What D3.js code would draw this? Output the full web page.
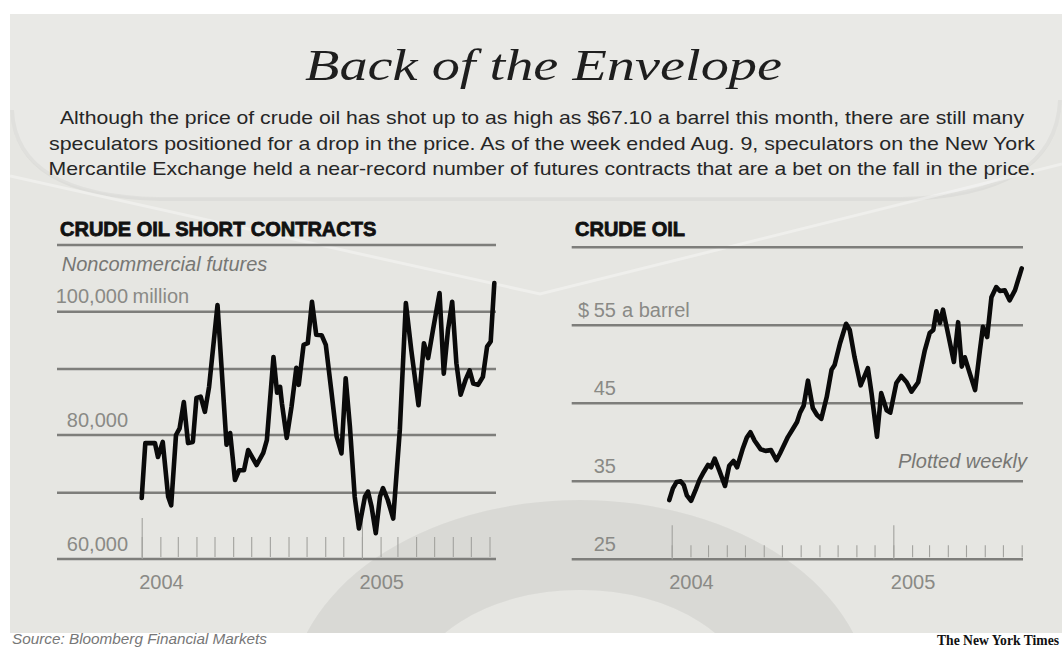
<!DOCTYPE html>
<html><head><meta charset="utf-8">
<script src="https://cdn.jsdelivr.net/npm/d3@7"></script>
<style>html,body{margin:0;padding:0;background:#fff}svg{display:block}</style>
</head><body>
<svg id="chart" width="1062" height="648"></svg>
<script>
// ---------- DATA ----------
const shortDates = ["2004-01-01","2004-01-07","2004-01-23","2004-01-28","2004-02-05","2004-02-14","2004-02-19","2004-02-27","2004-03-04","2004-03-11","2004-03-18","2004-03-26","2004-04-01","2004-04-08","2004-04-15","2004-04-22","2004-05-06","2004-05-21","2004-05-27","2004-06-04","2004-06-11","2004-06-19","2004-06-26","2004-07-10","2004-07-21","2004-07-27","2004-08-07","2004-08-13","2004-08-18","2004-08-21","2004-08-29","2004-09-06","2004-09-14","2004-09-18","2004-09-26","2004-10-03","2004-10-10","2004-10-17","2004-10-26","2004-11-02","2004-11-11","2004-11-20","2004-11-28","2004-12-05","2004-12-12","2004-12-20","2004-12-27","2005-01-06","2005-01-11","2005-01-17","2005-01-24","2005-01-31","2005-02-05","2005-02-13","2005-02-22","2005-03-05","2005-03-15","2005-03-24","2005-04-05","2005-04-14","2005-04-21","2005-04-29","2005-05-10","2005-05-17","2005-05-24","2005-05-31","2005-06-07","2005-06-14","2005-06-22","2005-06-29","2005-07-05","2005-07-13","2005-07-21","2005-07-28","2005-08-03","2005-08-09"];
const shortValues = [69200,78600,78600,76200,78800,69400,68100,80000,81000,85000,78600,78800,85600,85800,83500,87300,101000,78300,80300,72200,73900,73900,77400,74800,76900,79100,92100,86400,87300,84800,79500,84300,90200,87600,94200,94500,101500,96000,95900,94200,86800,79700,76800,88600,81300,69400,64600,69400,70200,67900,63900,69400,70800,68900,66100,80800,101300,93300,84500,94500,91900,96800,102800,89300,96800,101500,91000,86100,88300,89800,87800,87600,88800,93900,94800,104300];

const oilDates = ["2003-12-28","2004-01-03","2004-01-09","2004-01-16","2004-01-21","2004-01-26","2004-02-02","2004-02-10","2004-02-16","2004-02-23","2004-03-01","2004-03-06","2004-03-12","2004-03-20","2004-03-29","2004-04-05","2004-04-12","2004-04-18","2004-04-27","2004-05-04","2004-05-10","2004-05-17","2004-05-27","2004-06-04","2004-06-13","2004-06-22","2004-06-28","2004-07-11","2004-07-19","2004-07-26","2004-07-31","2004-08-06","2004-08-13","2004-08-21","2004-08-28","2004-09-04","2004-09-13","2004-09-21","2004-09-26","2004-10-05","2004-10-15","2004-10-21","2004-10-29","2004-11-08","2004-11-20","2004-11-26","2004-12-01","2004-12-05","2004-12-12","2004-12-21","2004-12-27","2005-01-06","2005-01-14","2005-01-23","2005-01-31","2005-02-11","2005-02-22","2005-03-02","2005-03-08","2005-03-13","2005-03-19","2005-03-24","2005-03-30","2005-04-07","2005-04-11","2005-04-18","2005-04-24","2005-04-29","2005-05-07","2005-05-16","2005-05-24","2005-05-29","2005-06-05","2005-06-12","2005-06-20","2005-06-26","2005-07-04","2005-07-12","2005-07-21","2005-08-01"];
const oilValues = [32.6,34.1,34.9,35.0,34.5,33.2,32.5,34.0,35.2,36.2,37.1,36.8,37.9,36.3,34.4,37.0,37.6,36.8,39.1,40.6,41.3,40.2,39.1,38.9,39.0,37.7,38.6,40.7,41.7,42.6,43.8,44.7,47.9,44.4,43.5,43.0,45.8,49.3,49.9,52.7,55.2,54.4,50.9,47.3,49.5,46.3,43.2,40.7,46.3,44.1,43.8,47.6,48.5,47.7,46.5,47.7,51.8,54.0,54.4,56.8,55.3,57.0,54.8,51.8,50.3,55.4,49.7,50.9,48.9,46.7,51.8,54.8,53.5,58.6,59.9,59.4,59.5,58.2,59.5,62.3];

const shortGridValues = [60000,70000,80000,90000,100000,110000];
const shortTickValues = [60000,80000,100000];
const shortTickLabels = ["60,000","80,000","100,000"];
const shortUnit = "million";

const oilGridValues = [25,35,45,55,65];
const oilTickValues = [25,35,45,55];
const oilTickLabels = ["25","35","45","55"];
const oilPrefix = "$";
const oilUnit = "a barrel";

const yearTicks = ["2004-01-01","2005-01-01"];
const yearLabels = ["2004","2005"];
const timeDomain = ["2004-01-01","2005-08-01"];

const paragraph = [
  "Although the price of crude oil has shot up to as high as $67.10 a barrel this month, there are still many",
  "speculators positioned for a drop in the price. As of the week ended Aug. 9, speculators on the New York",
  "Mercantile Exchange held a near-record number of futures contracts that are a bet on the fall in the price."
];

// ---------- DRAW ----------
const parse = d3.utcParse("%Y-%m-%d");
const svg = d3.select("#chart");
const SANS = "'Liberation Sans', Arial, Helvetica, sans-serif";
const GRAY = "#8a8a86";

// background envelope
svg.append("rect").attr("x",0).attr("y",0).attr("width",1062).attr("height",648).attr("fill","#fff");
const defs = svg.append("defs");
defs.append("clipPath").attr("id","env").append("rect").attr("x",10).attr("y",14).attr("width",1052).attr("height",619);
svg.append("rect").attr("x",10).attr("y",14).attr("width",1052).attr("height",619).attr("fill","#e6e6e2");
const bg = svg.append("g").attr("clip-path","url(#env)");
// top flap (slightly lighter)
bg.append("path")
  .attr("d","M10,14 L10,110 Q14,196 160,198 L900,198 Q1058,196 1062,100 L1062,14 Z")
  .attr("fill","#e9e9e6");
bg.append("path")
  .attr("d","M12,110 Q16,196 160,199 L900,199 Q1056,196 1060,100")
  .attr("fill","none").attr("stroke","rgba(0,0,0,0.035)").attr("stroke-width",4);
// V flap lines
bg.append("path").attr("d","M10,176 L540,294 L1062,164")
  .attr("fill","none").attr("stroke","rgba(255,255,255,0.35)").attr("stroke-width",3);
// darker swoosh ring
bg.append("path")
  .attr("d","M290,700 a290,200 0 1,1 580,0 a290,200 0 1,1 -580,0 Z M410,700 a170,110 0 1,0 340,0 a170,110 0 1,0 -340,0 Z")
  .attr("fill","rgba(0,0,0,0.055)").attr("fill-rule","evenodd");

// title
svg.append("text").attr("x",305).attr("y",80)
  .attr("font-family","'Liberation Serif','DejaVu Serif',serif").attr("font-style","italic")
  .attr("font-size",44).attr("fill","#1e1e1e")
  .attr("textLength",477).attr("lengthAdjust","spacingAndGlyphs")
  .text("Back of the Envelope");

// paragraph
const paraLens = [964, 986, 987];
const paraBase = [124, 149.5, 175];
svg.append("g").selectAll("text").data(paragraph).join("text")
  .attr("x",542).attr("y",(d,i)=>paraBase[i]).attr("text-anchor","middle")
  .attr("font-family",SANS).attr("font-size",19).attr("fill","#262626")
  .attr("textLength",(d,i)=>paraLens[i]).attr("lengthAdjust","spacingAndGlyphs")
  .text(d=>d);

function panel(cfg){
  const g = svg.append("g");
  const x = d3.scaleUtc().domain(timeDomain.map(parse)).range(cfg.xr);
  const y = d3.scaleLinear().domain(cfg.yDomain).range(cfg.yRange);
  const base = y(cfg.grid[0]);

  // title
  g.append("text").attr("x",cfg.titleX).attr("y",236)
    .attr("font-family",SANS).attr("font-weight","bold").attr("font-size",20)
    .attr("fill","#111").attr("stroke","#111").attr("stroke-width",0.8)
    .text(cfg.title);

  // gridlines
  g.append("g").selectAll("line").data(cfg.grid).join("line")
    .attr("x1",cfg.gx[0]).attr("x2",cfg.gx[1])
    .attr("y1",d=>y(d)).attr("y2",d=>y(d))
    .attr("stroke","#7e7e7b").attr("stroke-width",2.6);

  // month ticks
  const minor = g.append("g").attr("transform",`translate(0,${base})`)
    .call(d3.axisBottom(x).ticks(d3.utcMonth.every(1)).tickSize(-cfg.minor).tickFormat(""));
  minor.select(".domain").remove();
  minor.selectAll(".tick line").attr("stroke","#a2a29e").attr("stroke-width",1.1).attr("transform","translate(0,-2)");

  // year ticks + labels
  const major = g.append("g").attr("transform",`translate(0,${base})`)
    .call(d3.axisBottom(x).tickValues(yearTicks.map(parse)).tickSize(-cfg.major).tickPadding(16)
      .tickFormat((d,i)=>yearLabels[i]));
  major.select(".domain").remove();
  major.selectAll(".tick line").attr("stroke","#a2a29e").attr("stroke-width",1.1);
  major.selectAll(".tick text").attr("font-family",SANS).attr("font-size",20)
    .attr("fill",GRAY).attr("text-anchor","start").attr("dx",-3);

  // value labels
  const lab = g.append("g");
  cfg.ticks.forEach((v,i)=>{
    lab.append("text").attr("x",cfg.labelX).attr("y",y(v)-8.5)
      .attr("text-anchor","end").attr("font-family",SANS).attr("font-size",20).attr("fill",GRAY)
      .text(cfg.tickLabels[i]);
  });
  const topV = cfg.ticks[cfg.ticks.length-1];
  lab.append("text").attr("x",cfg.labelX+cfg.unitGap).attr("y",y(topV)-8.5)
    .attr("font-family",SANS).attr("font-size",20).attr("fill",GRAY).text(cfg.unit);
  if(cfg.prefix){
    lab.append("text").attr("x",cfg.labelX-27).attr("y",y(topV)-8.5).attr("text-anchor","end")
      .attr("font-family",SANS).attr("font-size",20).attr("fill",GRAY).text(cfg.prefix);
  }

  // line
  const pts = cfg.dates.map((d,i)=>({d:parse(d),v:cfg.values[i]}));
  g.append("path").datum(pts)
    .attr("d",d3.line().x(p=>x(p.d)).y(p=>y(p.v)))
    .attr("fill","none").attr("stroke","#0a0a0a").attr("stroke-width",4.6)
    .attr("stroke-linejoin","round").attr("stroke-linecap","round");
  return g;
}

panel({
  title:"CRUDE OIL SHORT CONTRACTS", titleX:60,
  xr:[141.7,489.5], gx:[57,496],
  yDomain:shortGridValues, yRange:[559,492.7,435,369,311.7,245],
  grid:shortGridValues, ticks:shortTickValues, tickLabels:shortTickLabels,
  unit:shortUnit, unitGap:4.5, labelX:128,
  minor:20, major:41,
  dates:shortDates, values:shortValues
});
panel({
  title:"CRUDE OIL", titleX:575,
  xr:[671.7,1021.7], gx:[571.7,1023],
  yDomain:[25,65], yRange:[559.3,247.3],
  grid:oilGridValues, ticks:oilTickValues, tickLabels:oilTickLabels,
  unit:oilUnit, unitGap:6, labelX:616, prefix:oilPrefix,
  minor:12, major:34,
  dates:oilDates, values:oilValues
});

// subtitles
svg.append("text").attr("x",61.7).attr("y",270.5)
  .attr("font-family",SANS).attr("font-style","italic").attr("font-size",20).attr("fill","#777774")
  .text("Noncommercial futures");
svg.append("text").attr("x",1027).attr("y",468).attr("text-anchor","end")
  .attr("font-family",SANS).attr("font-style","italic").attr("font-size",20).attr("fill","#777774")
  .text("Plotted weekly");

// footer
svg.append("text").attr("x",12).attr("y",644)
  .attr("font-family",SANS).attr("font-style","italic").attr("font-size",14).attr("fill","#777")
  .attr("textLength",255).attr("lengthAdjust","spacingAndGlyphs")
  .text("Source: Bloomberg Financial Markets");
svg.append("text").attr("x",1059).attr("y",645).attr("text-anchor","end")
  .attr("font-family","'Liberation Serif','Times New Roman',serif").attr("font-weight","bold").attr("font-size",14).attr("fill","#111")
  .attr("textLength",122).attr("lengthAdjust","spacingAndGlyphs")
  .text("The New York Times");
</script>
</body></html>
